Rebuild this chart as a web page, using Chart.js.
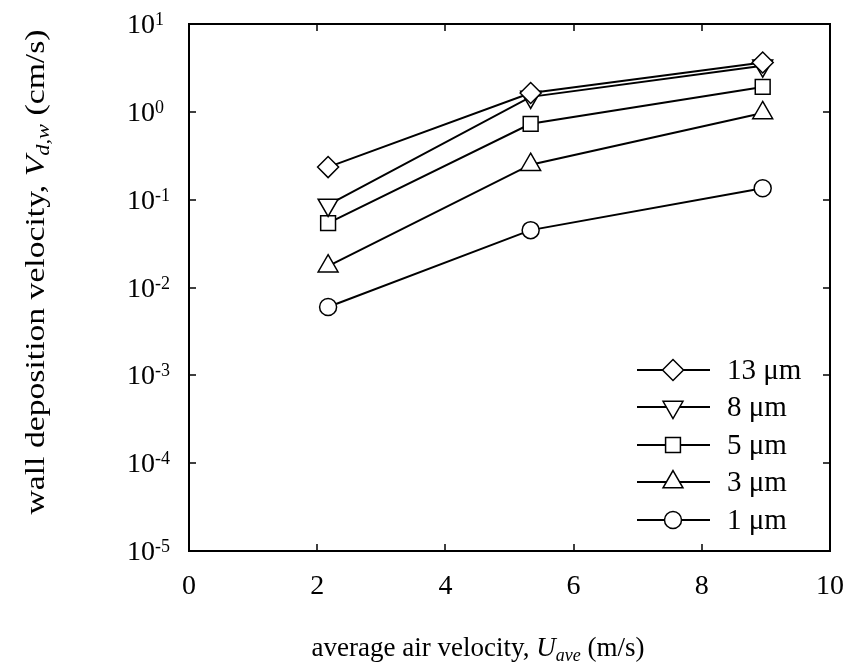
<!DOCTYPE html>
<html>
<head>
<meta charset="utf-8">
<script src="https://cdn.jsdelivr.net/npm/chart.js@4.4.0/dist/chart.umd.min.js"></script>
<style>
  html, body { margin: 0; padding: 0; background: #fff; }
  #wrap { width: 852px; height: 667px; }
</style>
</head>
<body>
<div id="wrap"><canvas id="depChart" width="852" height="667"></canvas></div>
<script>
// average air velocity (m/s) for every series
const airVelocity = [2.17, 5.33, 8.95];
// wall deposition velocity (cm/s) per particle size
const dep13 = [0.235, 1.64, 3.65];
const dep8 = [0.087, 1.48, 3.35];
const dep5 = [0.054, 0.73, 1.92];
const dep3 = [0.0175, 0.25, 0.97];
const dep1 = [0.006, 0.045, 0.135];
const seriesLabels = ['13 μm', '8 μm', '5 μm', '3 μm', '1 μm'];
const xTicks = [0, 2, 4, 6, 8, 10];
const yTickExps = [1, 0, -1, -2, -3, -4, -5];

const serif = '"Liberation Serif", "Times New Roman", serif';

const markers = [
  { pointStyle: 'rectRot', rotation: 0, radius: 10.5 },
  { pointStyle: 'triangle', rotation: 180, radius: 11.5 },
  { pointStyle: 'rect', rotation: 0, radius: 10.5 },
  { pointStyle: 'triangle', rotation: 0, radius: 11.5 },
  { pointStyle: 'circle', rotation: 0, radius: 8.5 }
];

function pairs(ys) {
  return airVelocity.map((x, i) => ({ x: x, y: ys[i] }));
}

const allSeries = [dep13, dep8, dep5, dep3, dep1];
const datasets = allSeries.map((ys, i) => ({
  label: seriesLabels[i],
  data: pairs(ys),
  borderColor: '#000',
  borderWidth: 2,
  backgroundColor: '#fff',
  pointStyle: markers[i].pointStyle,
  rotation: markers[i].rotation,
  pointRadius: markers[i].radius,
  pointBorderWidth: 1.5,
  pointBackgroundColor: '#fff',
  pointBorderColor: '#000',
  tension: 0,
  clip: false
}));

function drawParts(ctx, parts, x, y, size) {
  let cx = x;
  parts.forEach(p => {
    const fs = p.sub ? Math.round(size * 0.65) : size;
    ctx.font = (p.italic ? 'italic ' : '') + fs + 'px ' + serif;
    ctx.fillText(p.t, cx, y + (p.sub ? size * 0.2 : 0));
    cx += ctx.measureText(p.t).width;
  });
  return cx - x;
}

function partsWidth(ctx, parts, size) {
  let w = 0;
  parts.forEach(p => {
    const fs = p.sub ? Math.round(size * 0.65) : size;
    ctx.font = (p.italic ? 'italic ' : '') + fs + 'px ' + serif;
    w += ctx.measureText(p.t).width;
  });
  return w;
}

const xTitle = [
  { t: 'average air velocity, ' },
  { t: 'U', italic: true },
  { t: 'ave', italic: true, sub: true },
  { t: ' (m/s)' }
];
const yTitle = [
  { t: 'wall deposition velocity, ' },
  { t: 'V', italic: true },
  { t: 'd,w', italic: true, sub: true },
  { t: ' (cm/s)' }
];

function drawMarker(ctx, m, x, y) {
  ctx.fillStyle = '#fff';
  ctx.strokeStyle = '#000';
  ctx.lineWidth = 1.5;
  Chart.helpers.drawPoint(ctx, { pointStyle: m.pointStyle, rotation: m.rotation, radius: m.radius, borderWidth: 1.5 }, x, y);
}

const framePlugin = {
  id: 'frame',
  afterDraw(chart) {
    const ctx = chart.ctx;
    const a = chart.chartArea;
    const xs = chart.scales.x;
    const ys = chart.scales.y;
    ctx.save();
    ctx.strokeStyle = '#000';
    ctx.lineWidth = 2;
    ctx.strokeRect(a.left, a.top, a.right - a.left, a.bottom - a.top);

    // inward ticks on all four sides
    ctx.lineWidth = 1.5;
    const tl = 7;
    ctx.beginPath();
    xTicks.forEach(v => {
      const px = Math.round(xs.getPixelForValue(v));
      ctx.moveTo(px, a.bottom); ctx.lineTo(px, a.bottom - tl);
      ctx.moveTo(px, a.top); ctx.lineTo(px, a.top + tl);
    });
    yTickExps.forEach(e => {
      const py = Math.round(ys.getPixelForValue(Math.pow(10, e)));
      ctx.moveTo(a.left, py); ctx.lineTo(a.left + tl, py);
      ctx.moveTo(a.right, py); ctx.lineTo(a.right - tl, py);
    });
    ctx.stroke();

    // tick labels
    ctx.fillStyle = '#000';
    ctx.textBaseline = 'alphabetic';
    ctx.textAlign = 'center';
    ctx.font = '28px ' + serif;
    xTicks.forEach(v => {
      ctx.fillText(String(v), xs.getPixelForValue(v), 594);
    });
    ctx.textAlign = 'left';
    yTickExps.forEach(e => {
      const py = ys.getPixelForValue(Math.pow(10, e));
      ctx.font = '28px ' + serif;
      ctx.fillText('10', 127, py + 9);
      const w = ctx.measureText('10').width;
      ctx.font = '18px ' + serif;
      ctx.fillText(String(e), 127 + w, py + 1);
    });

    // axis titles
    const xw = partsWidth(ctx, xTitle, 27);
    drawParts(ctx, xTitle, 478 - xw / 2, 656, 27);
    const yw = partsWidth(ctx, yTitle, 27);
    const stretch = 485 / yw;
    ctx.save();
    ctx.translate(44, 272);
    ctx.rotate(-Math.PI / 2);
    ctx.scale(stretch, 1);
    drawParts(ctx, yTitle, -yw / 2, 0, 27);
    ctx.restore();

    // legend
    const rows = [370, 407, 445, 482, 520];
    rows.forEach((ry, i) => {
      ctx.strokeStyle = '#000';
      ctx.lineWidth = 2;
      ctx.beginPath();
      ctx.moveTo(637, ry); ctx.lineTo(710, ry);
      ctx.stroke();
      drawMarker(ctx, markers[i], 673, ry);
      ctx.fillStyle = '#000';
      ctx.font = '29px ' + serif;
      ctx.textBaseline = 'middle';
      ctx.fillText(seriesLabels[i], 727, ry + 1);
    });
    ctx.restore();
  }
};

const chart = new Chart(document.getElementById('depChart').getContext('2d'), {
  type: 'line',
  data: { datasets: datasets },
  options: {
    responsive: false,
    animation: false,
    devicePixelRatio: 1,
    layout: { padding: { left: 189, top: 24, right: 22, bottom: 116 } },
    scales: {
      x: { type: 'linear', min: 0, max: 10, display: false },
      y: { type: 'logarithmic', min: 1e-5, max: 10, display: false }
    },
    plugins: {
      legend: { display: false },
      tooltip: { enabled: false }
    }
  },
  plugins: [framePlugin]
});
</script>
</body>
</html>
